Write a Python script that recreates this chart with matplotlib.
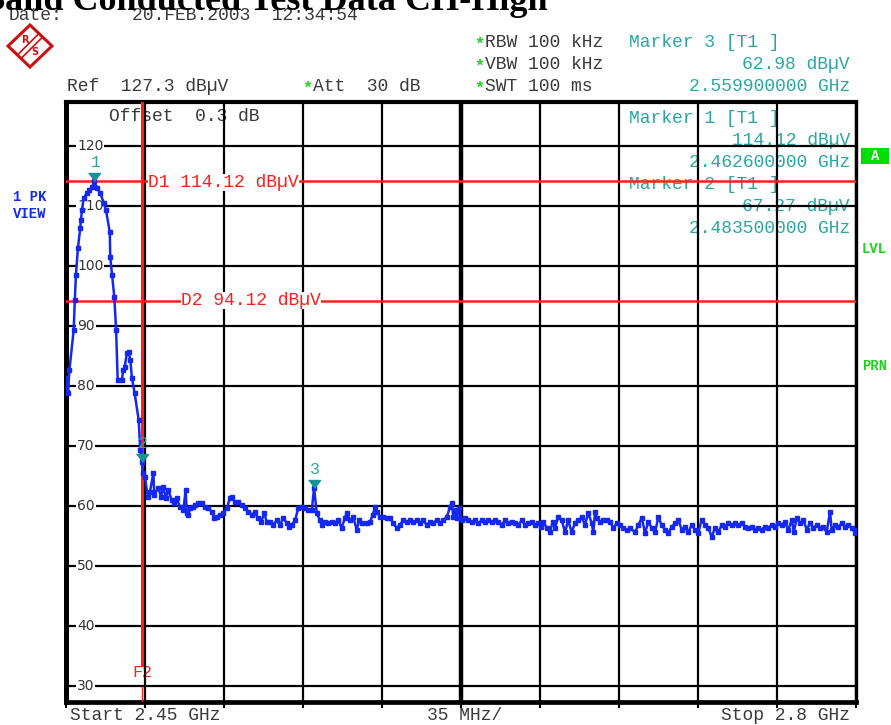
import matplotlib
matplotlib.use("Agg")
import matplotlib.pyplot as plt
from matplotlib.patches import Polygon, Rectangle
from matplotlib.lines import Line2D

# sweep: 2.45 GHz .. 2.8 GHz, peak detector trace (MHz, dBuV)
freq_mhz = [
    2450.0, 2450.4, 2450.9, 2451.5, 2453.4, 2453.9, 2454.4, 2455.3, 2456.3, 2456.6,
    2457.1, 2457.8, 2459.3, 2460.1, 2461.5, 2462.6, 2463.7, 2465.2, 2466.7, 2467.7,
    2469.4, 2469.6, 2470.4, 2471.4, 2472.2, 2472.9, 2474.8, 2475.3, 2476.0, 2477.0,
    2477.8, 2478.5, 2479.2, 2480.4, 2482.2, 2482.9, 2483.5, 2484.2, 2485.0, 2486.2,
    2487.2, 2488.7, 2489.1, 2490.9, 2492.1, 2493.1, 2494.2, 2495.3, 2496.8, 2498.0,
    2499.0, 2500.5, 2502.0, 2503.0, 2503.5, 2504.2, 2504.9, 2506.4, 2507.2, 2508.6,
    2510.1, 2511.6, 2513.0, 2514.6, 2515.7, 2516.8, 2518.2, 2519.7, 2521.2, 2522.7,
    2523.7, 2524.9, 2526.3, 2527.8, 2529.3, 2530.8, 2532.3, 2533.7, 2534.9, 2536.4,
    2537.9, 2538.9, 2540.4, 2541.8, 2543.3, 2544.8, 2546.3, 2547.8, 2548.8, 2550.0,
    2551.5, 2552.9, 2554.4, 2555.9, 2557.2, 2558.9, 2559.9, 2561.1, 2562.5, 2563.3,
    2564.7, 2566.2, 2567.7, 2569.2, 2570.6, 2572.1, 2573.6, 2574.4, 2575.8, 2577.3,
    2578.8, 2579.9, 2581.0, 2583.2, 2584.7, 2585.9, 2586.9, 2587.9, 2589.1, 2590.6,
    2592.1, 2593.5, 2595.0, 2596.5, 2598.0, 2599.4, 2600.9, 2602.4, 2603.9, 2605.4,
    2606.8, 2608.3, 2609.8, 2611.3, 2612.7, 2614.2, 2615.7, 2617.2, 2618.7, 2620.1,
    2620.9, 2621.6, 2622.3, 2623.1, 2624.2, 2625.3, 2626.8, 2628.2, 2629.7, 2631.2,
    2632.7, 2634.2, 2635.6, 2637.1, 2638.6, 2640.1, 2641.5, 2643.0, 2644.5, 2646.0,
    2647.5, 2648.9, 2650.4, 2651.9, 2653.4, 2654.8, 2656.3, 2657.8, 2659.3, 2660.3,
    2661.5, 2663.0, 2664.4, 2665.6, 2666.6, 2668.1, 2669.6, 2671.1, 2672.5, 2674.0,
    2675.5, 2677.0, 2678.5, 2679.9, 2681.4, 2682.9, 2683.6, 2684.4, 2685.1, 2686.6,
    2688.0, 2689.6, 2691.0, 2692.5, 2694.0, 2695.4, 2696.9, 2698.4, 2699.9, 2702.1,
    2703.6, 2705.1, 2706.5, 2708.0, 2709.5, 2711.0, 2712.4, 2713.9, 2715.4, 2716.8,
    2718.4, 2719.8, 2721.3, 2722.8, 2724.2, 2725.7, 2727.2, 2728.7, 2730.1, 2731.6,
    2733.1, 2734.6, 2736.1, 2737.5, 2739.0, 2740.5, 2742.0, 2743.4, 2744.9, 2746.4,
    2747.9, 2749.4, 2750.8, 2752.3, 2753.8, 2755.3, 2756.7, 2758.2, 2759.7, 2761.1,
    2762.7, 2764.1, 2765.6, 2767.1, 2768.5, 2770.0, 2771.5, 2772.5, 2773.7, 2775.2,
    2776.7, 2778.2, 2779.6, 2781.1, 2782.6, 2784.1, 2785.5, 2787.0, 2788.5, 2789.2,
    2790.7, 2792.2, 2793.7, 2795.1, 2796.6, 2798.1, 2799.6, 2800.0,
]
level_dbuv = [
    81.3, 79.0, 78.8, 82.6, 89.3, 94.3, 98.5, 103.0, 106.3, 107.6,
    109.3, 111.3, 112.1, 112.6, 113.1, 114.12, 113.0, 112.1, 110.5, 109.3,
    105.6, 101.5, 98.5, 94.8, 89.3, 81.0, 81.0, 82.6, 83.1, 85.5,
    85.6, 84.3, 81.3, 78.8, 74.3, 69.3, 67.27, 65.5, 64.8, 61.5,
    62.3, 65.5, 61.8, 63.0, 61.5, 63.2, 61.3, 62.6, 61.0, 60.5,
    61.3, 59.8, 59.3, 62.6, 58.8, 58.5, 59.6, 59.8, 60.1, 60.5,
    60.5, 59.8, 59.6, 59.0, 58.0, 58.1, 58.5, 58.8, 59.6, 61.3,
    61.5, 60.6, 60.6, 60.1, 59.6, 59.0, 58.5, 59.0, 58.0, 57.3,
    58.8, 57.3, 57.3, 56.8, 57.6, 56.8, 58.0, 57.1, 56.5, 56.8,
    57.6, 59.6, 59.8, 59.6, 59.3, 59.3, 62.98, 58.8, 57.6, 56.8,
    57.3, 57.1, 57.3, 57.1, 57.6, 56.3, 58.0, 58.8, 57.6, 58.1,
    56.0, 57.6, 57.1, 57.1, 57.3, 58.5, 59.8, 59.0, 58.1, 58.1,
    58.0, 58.0, 57.1, 56.3, 56.8, 57.6, 57.3, 57.6, 57.3, 57.6,
    57.1, 57.6, 56.8, 57.3, 57.1, 57.6, 57.1, 57.6, 58.1, 59.8,
    60.5, 58.1, 59.3, 58.0, 59.6, 57.6, 58.0, 57.6, 57.3, 57.6,
    57.1, 57.6, 57.3, 57.6, 57.3, 57.6, 57.3, 56.8, 57.6, 57.1,
    57.3, 57.1, 56.8, 57.6, 56.8, 57.1, 57.3, 56.8, 57.1, 56.5,
    57.3, 56.3, 55.6, 57.3, 56.3, 58.1, 57.6, 55.6, 57.6, 55.6,
    57.1, 57.6, 58.1, 56.8, 58.8, 57.1, 55.6, 59.0, 58.0, 57.3,
    57.6, 57.6, 57.3, 56.3, 57.1, 56.8, 56.3, 56.0, 56.3, 55.6,
    56.8, 58.0, 55.5, 57.3, 56.3, 55.6, 58.1, 56.8, 56.0, 55.5,
    56.5, 57.1, 57.6, 56.0, 56.5, 55.6, 56.8, 56.0, 55.5, 57.6,
    56.8, 56.3, 54.8, 56.3, 55.6, 56.8, 56.5, 57.1, 56.8, 57.1,
    56.8, 57.1, 56.5, 56.3, 56.5, 56.0, 56.3, 56.0, 56.5, 56.3,
    56.8, 56.5, 57.1, 56.8, 57.3, 56.0, 57.6, 55.6, 58.0, 57.1,
    57.6, 56.0, 57.1, 56.3, 56.8, 56.3, 56.5, 55.6, 59.0, 56.0,
    56.8, 56.5, 57.1, 56.5, 56.8, 56.3, 55.5, 56.0,
]

# markers 1..3 and display lines
marker_freq = [2462.6, 2483.5, 2559.9]
marker_level = [114.12, 67.27, 62.98]
marker_names = ["1", "2", "3"]
d1_level = 114.12
d2_level = 94.12
f2_freq = 2483.5

x_grid = [2450, 2485, 2520, 2555, 2590, 2625, 2660, 2695, 2730, 2765, 2800]
y_grid = [30, 40, 50, 60, 70, 80, 90, 100, 110, 120]

W, H = 891, 725
MONO = "Liberation Mono"
TEXT = "#3a3a3a"
TEAL = "#2aa6a6"
TEAL_DARK = "#149494"
RED = "#ff1e1e"
BLUE = "#1428f0"
GREEN = "#1ed21e"


def fx(x):
    return x / W


def fy(y):
    return 1 - y / H


fig = plt.figure(figsize=(W / 100, H / 100), dpi=100)
ax = fig.add_axes([fx(66), fy(702), 790 / W, 600 / H])
ax.set_xlim(2450, 2800)
ax.set_ylim(27.3, 127.3)
ax.set_xticks(x_grid)
ax.set_yticks(y_grid)
ax.tick_params(axis="x", direction="out", length=4, width=1.5, labelbottom=False)
ax.tick_params(axis="y", length=0, labelleft=False)
ax.set_axisbelow(False)
ax.grid(True, color="black", lw=1.6)
ax.axvline(2625, color="black", lw=3.2, zorder=2.6)
for side, lw in [("left", 3.6), ("bottom", 3.4), ("top", 3.0), ("right", 2.4)]:
    ax.spines[side].set_linewidth(lw)


def txt(x, y, s, color=TEXT, size=13, ha="left", zorder=1, **kw):
    return ax.text(fx(x), fy(y), s, transform=fig.transFigure, family=MONO,
                   fontsize=size, color=color, ha=ha, va="baseline",
                   zorder=zorder, clip_on=False, **kw)


# level scale printed inside the grid
for v in y_grid:
    ax.text(0.014, v, str(v), transform=ax.get_yaxis_transform(), ha="left",
            va="center", fontsize=10, family="DejaVu Sans", color="#333333",
            zorder=3, bbox=dict(facecolor="white", edgecolor="none", pad=0.6))

# title, partly above the sheet
fig.text(fx(548), fy(10), "Band Conducted Test Data CH-High",
         family="Liberation Serif", weight="bold", fontsize=26,
         ha="right", va="baseline")

# header block
txt(9, 20, "Date:")
txt(132, 20, "20.FEB.2003  12:34:54")
txt(67, 91, "Ref  127.3 dB\u00b5V")
txt(302, 93, "*", color=GREEN, size=12, weight="bold")
txt(313, 91, "Att  30 dB")
for y, s in [(47, "RBW 100 kHz"), (69, "VBW 100 kHz"), (91, "SWT 100 ms")]:
    txt(474, y + 2, "*", color=GREEN, size=12, weight="bold")
    txt(485, y, s)

txt(629, 47, "Marker 3 [T1 ]", color=TEAL)
txt(850, 69, "62.98 dB\u00b5V", color=TEAL, ha="right")
txt(850, 91, "2.559900000 GHz", color=TEAL, ha="right")

# marker readouts inside the graticule
txt(629, 123, "Marker 1 [T1 ]", color=TEAL)
txt(850, 145, "114.12 dB\u00b5V", color=TEAL, ha="right")
txt(850, 167, "2.462600000 GHz", color=TEAL, ha="right")
txt(629, 189, "Marker 2 [T1 ]", color=TEAL)
txt(850, 211, "67.27 dB\u00b5V", color=TEAL, ha="right")
txt(850, 233, "2.483500000 GHz", color=TEAL, ha="right")
txt(109, 121, "Offset  0.3 dB")

# footer
txt(70, 720, "Start 2.45 GHz")
txt(427, 720, "35 MHz/")
txt(850, 720, "Stop 2.8 GHz", ha="right")

# side annotations
fig.text(fx(13), fy(201), "1 PK", family=MONO, weight="bold", fontsize=10,
         color=BLUE, va="baseline")
fig.text(fx(13), fy(218), "VIEW", family=MONO, weight="bold", fontsize=10,
         color=BLUE, va="baseline")
fig.text(fx(862), fy(253), "LVL", family=MONO, weight="bold", fontsize=10,
         color=GREEN, va="baseline")
fig.text(fx(862), fy(370), "PRN", family=MONO, weight="bold", fontsize=10,
         color=GREEN, va="baseline")
fig.patches.append(Rectangle((fx(861), fy(164)), 28 / W, 16 / H,
                             transform=fig.transFigure, facecolor="#00dd00",
                             edgecolor="none"))
fig.text(fx(875), fy(156), "A", family=MONO, weight="bold", fontsize=10,
         color="white", ha="center", va="center")

# R&S logo
logo_red = "#cc1111"
fig.patches.append(Polygon([(fx(30), fy(25)), (fx(52), fy(46)), (fx(30), fy(67)),
                            (fx(8), fy(46))], closed=True, fill=False,
                           edgecolor=logo_red, lw=2.2, transform=fig.transFigure))
for off in (-1.8, 1.8):
    fig.lines.append(Line2D([fx(19 + off), fx(41 + off)], [fy(57 + off), fy(35 + off)],
                            color=logo_red, lw=1.2, transform=fig.transFigure))
fig.text(fx(25), fy(40), "R", family="DejaVu Sans", weight="bold", fontsize=7,
         color=logo_red, ha="center", va="center")
fig.text(fx(35), fy(52), "S", family="DejaVu Sans", weight="bold", fontsize=7,
         color=logo_red, ha="center", va="center")

# display lines D1, D2 and frequency line F2
ax.axhline(d1_level, color=RED, lw=1.8, zorder=3)
ax.axhline(d2_level, color=RED, lw=1.8, zorder=3)
box = dict(facecolor="white", edgecolor="none", pad=0.3)
txt(148, 187, "D1 114.12 dB\u00b5V", color=RED, zorder=3.5, bbox=box)
txt(181, 305, "D2 94.12 dB\u00b5V", color=RED, zorder=3.5, bbox=box)
ax.plot([f2_freq, f2_freq], [127.3, 33.5], color=RED, lw=2.2, zorder=3)
ax.plot([f2_freq, f2_freq], [29.8, 27.3], color=RED, lw=1.0, zorder=3)
txt(132, 677, "F2", color=RED, size=12)

# trace
ax.plot(freq_mhz, level_dbuv, color=BLUE, lw=1.8, marker="s", ms=2.2,
        zorder=4, clip_on=True)

# marker symbols: tip of the triangle sits on the marker level
tri = [(-6, 8), (6, 8), (0, 0)]
ax.plot(marker_freq, marker_level, linestyle="none", marker=tri, ms=11.5,
        color=TEAL_DARK, zorder=5)
for f, v, n in zip(marker_freq, marker_level, marker_names):
    ax.annotate(n, (f, v), xytext=(1, 14), textcoords="offset pixels",
                ha="center", va="baseline", family=MONO, fontsize=12,
                color=TEAL, zorder=5)

fig.savefig("out.png", dpi=100)
